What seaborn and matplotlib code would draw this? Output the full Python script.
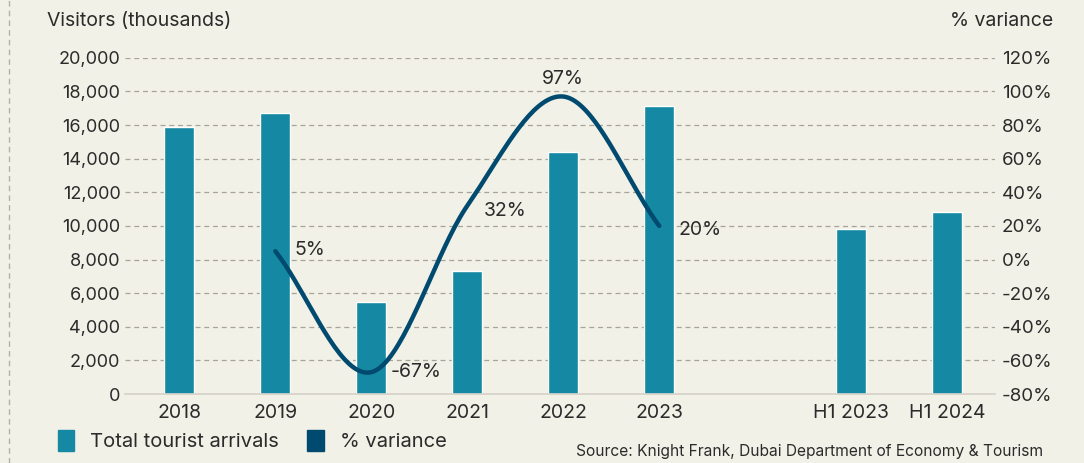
import numpy as np
import pandas as pd
import matplotlib
matplotlib.use("Agg")
import matplotlib.pyplot as plt
import seaborn as sns
from matplotlib.lines import Line2D
from matplotlib.patches import Patch

# data
categories = ["2018", "2019", "2020", "2021", "2022", "2023", " ", "H1 2023", "H1 2024"]
bar_labels = ["2018", "2019", "2020", "2021", "2022", "2023", "H1 2023", "H1 2024"]
arrivals = [15900, 16700, 5500, 7300, 14400, 17150, 9800, 10800]
var_years = ["2019", "2020", "2021", "2022", "2023"]
variance = [5, -67, 32, 97, 20]

BG = "#f2f1e7"
BAR = "#1589a3"
LINE = "#004a70"
TXT = "#2b2b2b"
GRID = "#a8a49a"

sns.set_theme(style="white")
plt.rcParams["font.family"] = ["Inter", "DejaVu Sans"]

fig = plt.figure(figsize=(10.84, 4.63), dpi=100, facecolor=BG)
ax = fig.add_axes([0.115, 0.149, 0.803, 0.726], facecolor=BG)

df = pd.DataFrame({"year": bar_labels, "arrivals": arrivals})
sns.barplot(data=df, x="year", y="arrivals", order=categories, color=BAR,
            width=0.31, saturation=1, ax=ax)

ax.set_ylim(0, 20000)
ax.set_xlim(-0.57, 8.5)
ax.set_yticks(range(0, 20001, 2000))
ax.set_yticklabels([f"{v:,}" for v in range(0, 20001, 2000)])
for v in range(2000, 20001, 2000):
    ax.axhline(v, color=GRID, lw=0.9, ls=(0, (4, 3)), zorder=0)
ax.set_axisbelow(True)
for s in ["top", "right", "left"]:
    ax.spines[s].set_visible(False)
ax.spines["bottom"].set_color("#d4d2c8")
ax.spines["bottom"].set_linewidth(1.2)
ax.set_xlabel("")
ax.set_ylabel("")
ax.tick_params(axis="both", length=0, colors=TXT)
ax.tick_params(axis="x", pad=7, labelsize=14)
ax.tick_params(axis="y", pad=3, labelsize=13)

# secondary axis for % variance
ax2 = ax.twinx()
ax2.set_ylim(-80, 120)
ax2.set_yticks(range(-80, 121, 20))
ax2.set_yticklabels([f"{v}%" for v in range(-80, 121, 20)])
ax2.tick_params(axis="y", length=0, labelsize=13.5, colors=TXT, pad=5)
for s in ax2.spines.values():
    s.set_visible(False)

# smooth line through the variance points (Catmull-Rom)
xs = np.array([categories.index(y) for y in var_years], dtype=float)
ys = np.array(variance, dtype=float)
px = np.concatenate([[2 * xs[0] - xs[1]], xs, [2 * xs[-1] - xs[-2]]])
py = np.concatenate([[2 * ys[0] - ys[1]], ys, [2 * ys[-1] - ys[-2]]])
sx, sy = [], []
t = np.linspace(0, 1, 40)
for i in range(1, len(px) - 2):
    for arr, out in ((px, sx), (py, sy)):
        p0, p1, p2, p3 = arr[i - 1], arr[i], arr[i + 1], arr[i + 2]
        out.extend(0.5 * ((2 * p1) + (-p0 + p2) * t
                          + (2 * p0 - 5 * p1 + 4 * p2 - p3) * t ** 2
                          + (-p0 + 3 * p1 - 3 * p2 + p3) * t ** 3))
ax2.plot(sx, sy, color=LINE, lw=3.2, solid_capstyle="round", zorder=5)

offsets = {"2019": (14, 1, "left", "center"), "2020": (14, 0, "left", "center"),
           "2021": (12, -4, "left", "center"), "2022": (0, 6, "center", "bottom"),
           "2023": (14, -3, "left", "center")}
for yr, v in zip(var_years, variance):
    dx, dy, ha, va = offsets[yr]
    ax2.annotate(f"{v}%", (categories.index(yr), v), xytext=(dx, dy),
                 textcoords="offset points", ha=ha, va=va, fontsize=14, color=TXT)

fig.text(0.043, 0.955, "Visitors (thousands)", fontsize=14, color=TXT, va="center")
fig.text(0.972, 0.955, "% variance", fontsize=14, color=TXT, va="center", ha="right")

# left dashed border
fig.add_artist(Line2D([0.008, 0.008], [0, 1], color="#b4b1a6", lw=1, ls=(0, (4, 3))))

handles = [Patch(color=BAR, label="Total tourist arrivals"),
           Patch(color=LINE, label="% variance")]
fig.legend(handles=handles, loc="lower left", bbox_to_anchor=(0.037, -0.014), ncol=2,
           frameon=False, fontsize=14.5, handlelength=0.8, handleheight=1.2,
           handletextpad=0.8, columnspacing=1.4, labelcolor=TXT)
fig.text(0.962, 0.025, "Source: Knight Frank, Dubai Department of Economy & Tourism",
         fontsize=11.2, color=TXT, ha="right", va="center")

fig.savefig("out.png", dpi=100, facecolor=BG)
